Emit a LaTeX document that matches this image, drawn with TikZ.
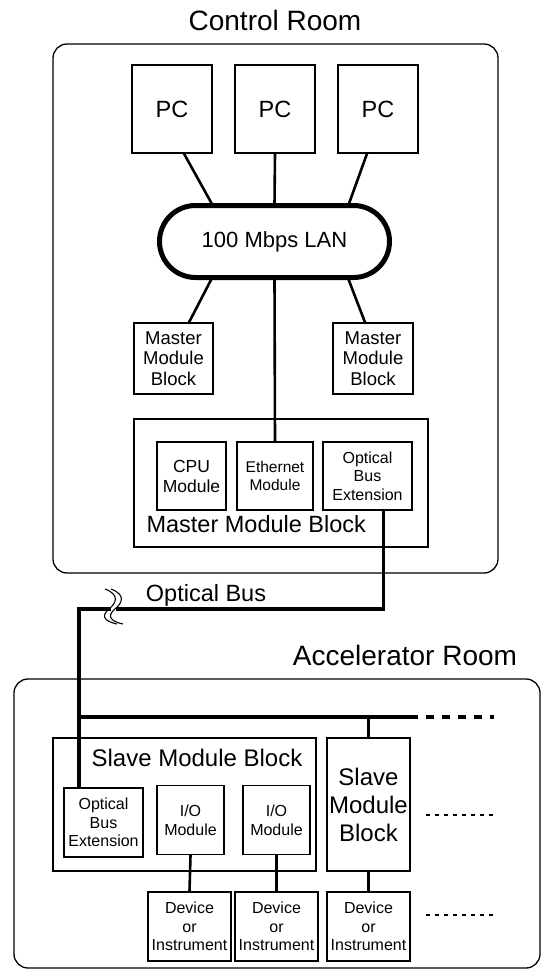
\documentclass[tikz,border=0pt]{standalone}
\usepackage{fontspec}
\setmainfont{Liberation Sans}
\usetikzlibrary{positioning,calc}
\newcommand{\roomfont}{\fontsize{28}{32}\selectfont}
\newcommand{\labfont}{\fontsize{23.5}{28}\selectfont}
\newcommand{\modfont}{\fontsize{16}{18.6}\selectfont}
\tikzset{
  room/.style    = {draw, line width=1.3pt, rounded corners=14pt},
  modbox/.style  = {draw, line width=1.3pt, inner sep=0pt, align=center,
                    font=\modfont},
  blockbox/.style= {draw, line width=1.3pt, inner sep=0pt, align=center},
  link/.style    = {line width=2.6pt},
  bus/.style     = {line width=3.2pt},
  contdash/.style= {line width=1.1pt, dash pattern=on 4pt off 5pt},
}

\begin{document}
\begin{tikzpicture}[x=1pt,y=-1pt]
\useasboundingbox (0,0) rectangle (541,969);
% control room
\draw[room] (53,44) rectangle (498,573);
\node[font=\roomfont,anchor=base] (crtitle) at (275,30) {Control Room};
\node[modbox,minimum width=80,minimum height=88,font=\labfont] (pc1) at (172,109) {PC};
\node[modbox,minimum width=80,minimum height=88,font=\labfont] (pc2) at (275,109) {PC};
\node[modbox,minimum width=80,minimum height=88,font=\labfont] (pc3) at (378,109) {PC};
\node[draw,line width=5pt,rounded corners=36,minimum width=230,minimum height=72,
      inner sep=0pt,font=\fontsize{22}{26}\selectfont] (lan) at (274.5,241.5) {100 Mbps LAN};
\draw[link] ($(pc1.south)+(12,0)$) -- ($(lan.north)+(-62,2)$);
\draw[link] (pc2.south) -- ($(lan.north)+(0,2)$);
\draw[link] ($(pc3.south)+(-11,0)$) -- ($(lan.north)+(74,2)$);
\node[modbox,minimum width=79,minimum height=71,font=\fontsize{18.5}{20.7}\selectfont] (mmbL) at (173.5,358.5) {Master\\Module\\Block};
\node[modbox,minimum width=80,minimum height=71,font=\fontsize{18.5}{20.7}\selectfont] (mmbR) at (373,358.5) {Master\\Module\\Block};
\draw[link] ($(lan.south)+(-62.5,-2)$) -- ($(mmbL.north)+(15.5,0)$);
\draw[link] ($(lan.south)+(73.5,-2)$) -- ($(mmbR.north)+(-8,0)$);
% master module block
\node[blockbox,minimum width=294,minimum height=128] (mmb) at (281,483) {};
\node[modbox,minimum width=69,minimum height=68,font=\fontsize{17.5}{20}\selectfont] (cpu) at (191.5,476) {CPU\\Module};
\node[modbox,minimum width=76,minimum height=68,font=\fontsize{15.5}{18}\selectfont] (eth) at (275,476) {Ethernet\\Module};
\node[modbox,minimum width=89,minimum height=68] (mobe) at (367.5,476) {Optical\\Bus\\Extension};
\node[font=\labfont,anchor=base west] (mmbtext) at (143,532) {Master Module Block};
\draw[link] ($(lan.south)+(0,-2)$) -- (eth.north);
% optical bus
\coordinate (obturn) at (79,609);
\coordinate (busw) at (79,717);
\coordinate (buse) at (418,717);
\draw[bus] ($(mobe.south)+(16,0)$) |- (obturn) -- (busw);
\fill[white] (110.5,603) rectangle (115.5,614);
\draw[line width=1.1pt] (105,589) .. controls (121,595) and (115,604) .. (110,608)
      .. controls (104,613) and (99,620) .. (117,624);
\draw[line width=1.1pt] (111,589) .. controls (127,595) and (121,604) .. (116,608)
      .. controls (110,613) and (105,620) .. (123,624);
\node[font=\labfont,anchor=base] (obtext) at (206,601) {Optical Bus};
% accelerator room
\draw[room] (14,679) rectangle (540,968);
\node[font=\roomfont,anchor=base] (artitle) at (405,665) {Accelerator Room};
\draw[bus] (busw) -- (buse);
\draw[bus,dash pattern=on 8pt off 8pt] ($(buse)+(8,0)$) -- (494,717);
\node[blockbox,minimum width=263,minimum height=133] (smb) at (184.5,804.5) {};
\node[font=\fontsize{24}{28}\selectfont,anchor=base] (smbtext) at (197,766) {Slave Module Block};
\node[blockbox,minimum width=83,minimum height=133,font=\fontsize{24}{28}\selectfont] (smbR) at (368.5,804.5) {Slave\\Module\\Block};
\node[modbox,minimum width=79,minimum height=69] (sobe) at (103.5,822.5) {Optical\\Bus\\Extension};
\node[modbox,minimum width=67,minimum height=69] (io1) at (190.5,820) {I/O\\Module};
\node[modbox,minimum width=67,minimum height=69] (io2) at (276.5,820) {I/O\\Module};
\node[modbox,minimum width=83,minimum height=69] (dev1) at (189.5,926.5) {Device\\or\\Instrument};
\node[modbox,minimum width=83,minimum height=69] (dev2) at (276.5,926.5) {Device\\or\\Instrument};
\node[modbox,minimum width=83,minimum height=69] (dev3) at (368.5,926.5) {Device\\or\\Instrument};
\draw[bus] (busw) -- (sobe.north -| busw);
\draw[link] (smbR.north) -- (smbR.north |- busw);
\draw[link] (io1.south) -- (dev1.north);
\draw[link] (io2.south) -- (dev2.north);
\draw[link] (smbR.south) -- (dev3.north);
% more blocks
\coordinate (moreA) at (426,815);
\coordinate (moreB) at (426,915);
\draw[contdash] (moreA) -- ++(68,0);
\draw[contdash] (moreB) -- ++(68,0);
\end{tikzpicture}
\end{document}
